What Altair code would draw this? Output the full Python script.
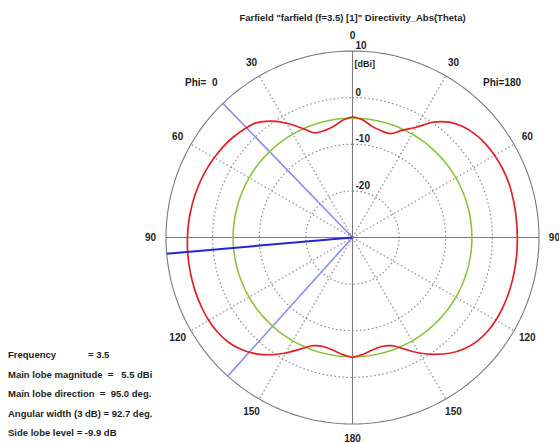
import altair as alt
import pandas as pd

# ---------------- data ----------------
theta_deg = list(range(0, 181, 5))
# Directivity (dBi), Phi = 0 half (drawn on the left)
phi0_db = [-4.1, -4.8, -5.9, -6.3, -6.1, -4.1, -1.7, 0.45, 2.1, 2.85,
           3.45, 3.9, 4.25, 4.55, 4.8, 5.0, 5.15, 5.3, 5.4, 5.5,
           5.55, 5.6, 5.65, 5.65, 5.6, 5.35, 4.85, 3.9, 2.5, 0.7,
           -1.4, -3.6, -5.3, -5.8, -5.5, -4.8, -4.3]
# Directivity (dBi), Phi = 180 half (drawn on the right)
phi180_db = [-4.1, -4.7, -5.8, -6.3, -6.3, -4.6, -2.7, 0.2, 2.3, 3.6,
             4.4, 4.9, 5.2, 5.4, 5.5, 5.45, 5.4, 5.35, 5.35, 5.4,
             5.45, 5.5, 5.55, 5.55, 5.5, 5.25, 4.75, 3.8, 2.4, 0.6,
             -1.4, -3.6, -5.3, -5.8, -5.5, -4.8, -4.3]

floor_db = -30
outer_db = 10
grid_db = [-20, -10, 0]
side_lobe_circle_db = -4.4
main_lobe_dir = 95.0
beam_edges = [44.0, 138.0]
spoke_angles = [30, 60, 120, 150]
angle_labels = [0, 30, 60, 90, 120, 150, 180]
radial_ticks = ["10", "0", "-10", "-20"]
radial_tick_vals = [10, 0, -10, -20]

NB = "\u00a0"
title_text = 'Farfield "farfield (f=3.5) [1]" Directivity_Abs(Theta)'
info_labels = ["Frequency",
               f"Main lobe magnitude{NB*2}={NB*3}5.5 dBi",
               f"Main lobe direction{NB*2}={NB*2}95.0 deg.",
               f"Angular width (3 dB){NB}={NB}92.7 deg.",
               f"Side lobe level{NB}={NB}-9.9 dB"]
freq_value = "= 3.5"

# ---------------- geometry helpers ----------------
R = outer_db - floor_db  # 40 units
xs = alt.Scale(domain=[-R, R], nice=False, zero=False)
ys = alt.Scale(domain=[-R, R], nice=False, zero=False)
FONT = "Liberation Sans"
TXT = "#1e1e1e"


def polar(df):
    return (alt.Chart(df)
            .transform_calculate(r=f"datum.v - ({floor_db})")
            .transform_calculate(
                x="datum.s * datum.r * sin(datum.t * PI / 180)",
                y="datum.r * cos(datum.t * PI / 180)"))


def line_layer(df, **mark):
    return polar(df).mark_line(**mark).encode(
        x=alt.X("x:Q", scale=xs, axis=None),
        y=alt.Y("y:Q", scale=ys, axis=None),
        detail="g:N", order="o:Q")


def circle_df(levels):
    rows = []
    for lv in levels:
        for i, a in enumerate(range(0, 361, 2)):
            rows.append(dict(g=str(lv), o=i, t=a, s=1, v=lv))
    return pd.DataFrame(rows)


def ray_df(angles, sides):
    rows = []
    for k, (a, sd) in enumerate(zip(angles, sides)):
        rows.append(dict(g=str(k), o=0, t=a, s=sd, v=floor_db))
        rows.append(dict(g=str(k), o=1, t=a, s=sd, v=outer_db))
    return pd.DataFrame(rows)


# grid circles (dotted)
grid = line_layer(circle_df(grid_db), color="#8a8a8a", strokeWidth=1.2,
                  strokeDash=[1.5, 2.5])
# dotted spokes
sp_angles = spoke_angles + spoke_angles
sp_sides = [-1] * len(spoke_angles) + [1] * len(spoke_angles)
spokes = line_layer(ray_df(sp_angles, sp_sides), color="#8a8a8a",
                    strokeWidth=1.2, strokeDash=[1.5, 2.5])
# solid axes
axes = line_layer(ray_df([0, 180, 90, 90], [1, 1, -1, 1]), color="#7a7a7a",
                  strokeWidth=1.1)
outer = line_layer(circle_df([outer_db]), color="#7a7a7a", strokeWidth=1.1)
green = line_layer(circle_df([side_lobe_circle_db]), color="#8cc43c",
                   strokeWidth=1.6)
beam = line_layer(ray_df(beam_edges, [-1, -1]), color="#8c8cf0",
                  strokeWidth=1.6)
main_dir = line_layer(ray_df([main_lobe_dir], [-1]), color="#2424d8",
                      strokeWidth=2)

# pattern curve
rows = []
for i, (t, v) in enumerate(zip(theta_deg, phi0_db)):
    rows.append(dict(g="p", o=i, t=t, s=-1, v=v))
n = len(theta_deg)
for j, (t, v) in enumerate(zip(theta_deg[::-1], phi180_db[::-1])):
    rows.append(dict(g="p", o=n + j, t=t, s=1, v=v))
pattern = line_layer(pd.DataFrame(rows), color="#e41e2a", strokeWidth=1.7,
                     interpolate="catmull-rom")

# angle labels
lab_rows = []
for a in angle_labels:
    if a in (0, 180):
        lab_rows.append(dict(t=a, s=1, v=13.3, txt=str(a)))
    else:
        lab_rows.append(dict(t=a, s=-1, v=13.3, txt=str(a)))
        lab_rows.append(dict(t=a, s=1, v=13.3, txt=str(a)))
ang_labels = polar(pd.DataFrame(lab_rows)).mark_text(
    font=FONT, fontWeight="bold", fontSize=10, color=TXT,
    align="center", baseline="middle").encode(
    x=alt.X("x:Q", scale=xs, axis=None),
    y=alt.Y("y:Q", scale=ys, axis=None), text="txt:N")

# radial tick labels
rt = pd.DataFrame(dict(t=[0] * len(radial_tick_vals), s=[1] * len(radial_tick_vals),
                       v=radial_tick_vals, txt=radial_ticks))
rad_labels = polar(rt).mark_text(
    font=FONT, fontWeight="bold", fontSize=10, color=TXT,
    align="left", baseline="middle", dx=3, dy=-5).encode(
    x=alt.X("x:Q", scale=xs, axis=None),
    y=alt.Y("y:Q", scale=ys, axis=None), text="txt:N")
unit = polar(pd.DataFrame(dict(t=[0], s=[1], v=[outer_db], txt=["[dBi]"]))).mark_text(
    font=FONT, fontWeight="bold", fontSize=9, color=TXT,
    align="left", baseline="middle", dx=2, dy=13).encode(
    x=alt.X("x:Q", scale=xs, axis=None),
    y=alt.Y("y:Q", scale=ys, axis=None), text="txt:N")

# annotations (pixel placement relative to plot area)
title = alt.Chart(pd.DataFrame(dict(txt=[title_text]))).mark_text(
    font=FONT, fontWeight="bold", fontSize=9.5, color=TXT,
    align="center", baseline="middle").encode(
    x=alt.value(186.5), y=alt.value(-33), text="txt:N")

phi_l = alt.Chart(pd.DataFrame(dict(txt=[f"Phi={NB}{NB}0"]))).mark_text(
    font=FONT, fontWeight="bold", fontSize=10, color=TXT,
    align="left", baseline="middle").encode(
    x=alt.value(19), y=alt.value(32), text="txt:N")
phi_r = alt.Chart(pd.DataFrame(dict(txt=["Phi=180"]))).mark_text(
    font=FONT, fontWeight="bold", fontSize=10, color=TXT,
    align="left", baseline="middle").encode(
    x=alt.value(317), y=alt.value(32), text="txt:N")

info_df = pd.DataFrame(dict(txt=info_labels, k=list(range(len(info_labels)))))
info = alt.Chart(info_df).transform_calculate(
    py="304 + datum.k * 19.5").mark_text(
    font=FONT, fontWeight="bold", fontSize=9.5, color=TXT,
    align="left", baseline="middle").encode(
    x=alt.value(-158), y=alt.Y("py:Q", scale=None), text="txt:N")
freq = alt.Chart(pd.DataFrame(dict(txt=[freq_value]))).mark_text(
    font=FONT, fontWeight="bold", fontSize=9.5, color=TXT,
    align="left", baseline="middle").encode(
    x=alt.value(-78), y=alt.value(304), text="txt:N")

chart = alt.layer(
    grid, spokes, axes, outer, beam, green, pattern, main_dir,
    ang_labels, rad_labels, unit, title, phi_l, phi_r, info, freq
).properties(
    width=373, height=373,
    autosize=alt.AutoSizeParams(type="none"),
    padding={"left": 166, "top": 51, "right": 20, "bottom": 19},
    background="white"
).configure_view(stroke=None)

chart.save("out.html", embed_options={"renderer": "svg", "actions": False})
